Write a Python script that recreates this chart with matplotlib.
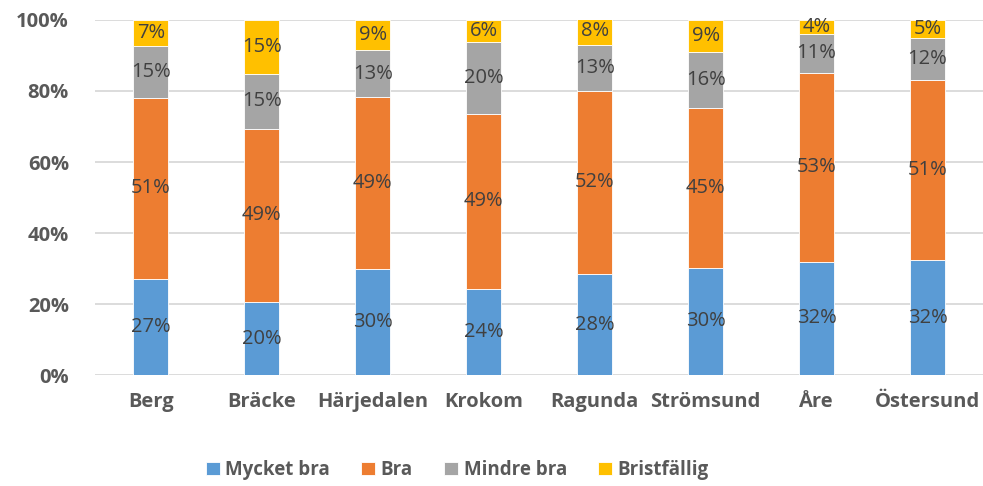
import numpy as np
import matplotlib.pyplot as plt

kommuner = ['Berg', 'Bräcke', 'Härjedalen', 'Krokom', 'Ragunda', 'Strömsund', 'Åre', 'Östersund']
mycket_bra = [27.2, 20.5, 29.8, 24.2, 28.4, 30.3, 32.0, 32.3]
bra = [50.9, 48.9, 48.6, 49.4, 51.7, 45.0, 53.1, 50.8]
mindre_bra = [14.6, 15.4, 13.0, 20.2, 12.9, 15.6, 11.0, 11.9]
bristfallig = [7.3, 15.2, 8.6, 6.2, 7.9, 9.1, 3.9, 5.0]

serier = [('Mycket bra', mycket_bra, '#5B9BD5'),
          ('Bra', bra, '#ED7D31'),
          ('Mindre bra', mindre_bra, '#A5A5A5'),
          ('Bristfällig', bristfallig, '#FFC000')]

plt.rcParams['font.family'] = ['Open Sans', 'DejaVu Sans']

fig = plt.figure(figsize=(9.83, 4.86), dpi=100)
ax = fig.add_axes([0.097, 0.228, 0.903, 0.731])

x = np.arange(len(kommuner))
bottom = np.zeros(len(kommuner))
for namn, vals, farg in serier:
    vals = np.array(vals)
    ax.bar(x, vals, 0.315, bottom=bottom, color=farg, label=namn,
           edgecolor='white', linewidth=0.6, zorder=3)
    for xi, b, v in zip(x, bottom, vals):
        ax.text(xi, b + v / 2, f'{round(v):.0f}%', ha='center', va='center',
                fontsize=14.5, color='#404040', zorder=4)
    bottom += vals

ax.set_xlim(-0.5, len(kommuner) - 0.5)
ax.set_ylim(0, 100)
ax.set_yticks(range(0, 101, 20))
ax.set_yticklabels([f'{t}%' for t in range(0, 101, 20)])
ax.set_xticks(x)
ax.set_xticklabels(kommuner)
for lab in ax.get_xticklabels() + ax.get_yticklabels():
    lab.set_fontweight('bold')
    lab.set_fontsize(14.5)
    lab.set_color('#595959')
ax.tick_params(length=0)
ax.tick_params(axis='x', pad=12)
ax.tick_params(axis='y', pad=19)
ax.grid(axis='y', color='#D9D9D9', linewidth=1.3, zorder=0)
for s in ax.spines.values():
    s.set_visible(False)

leg = fig.legend(loc='center', bbox_to_anchor=(0.465, 0.033), ncol=4, frameon=False,
                 handlelength=0.75, handleheight=0.75, handletextpad=0.3,
                 columnspacing=1.65, prop={'weight': 'bold', 'size': 13.5})
for t in leg.get_texts():
    t.set_color('#595959')

fig.savefig('out.png', dpi=100)
